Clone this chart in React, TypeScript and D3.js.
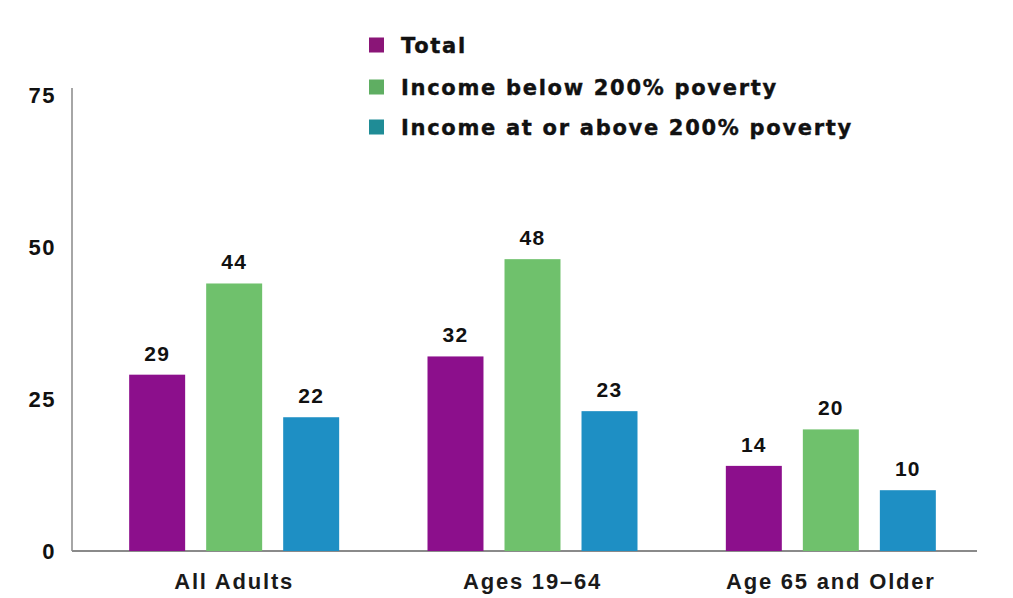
import React from "react";
import * as d3 from "d3";

const categories = ["All Adults", "Ages 19\u201364", "Age 65 and Older"];
const seriesNames = ["Total", "Income below 200% poverty", "Income at or above 200% poverty"];
const totalValues = [29, 32, 14];
const belowValues = [44, 48, 20];
const aboveValues = [22, 23, 10];
const yTicks = [0, 25, 50, 75];

const barColors = ["#8c0f8c", "#6fc16c", "#1e8fc4"];
const legendColors = ["#8a1577", "#5fae62", "#1f8c96"];

const W = 1013;
const H = 598;

export default function App() {
  const series = [totalValues, belowValues, aboveValues];
  const y = d3.scaleLinear().domain([0, 75]).range([551, 95]);
  const x0 = d3.scaleBand<string>().domain(categories).range([85, 980]).padding(0);
  const groupW = 210;
  const x1 = d3.scaleBand<string>().domain(seriesNames).range([0, groupW]).paddingInner(0.273).paddingOuter(0);
  const sans = "'Liberation Sans', Arial, Helvetica, sans-serif";
  const heavy = "'DejaVu Sans', 'Liberation Sans', Arial, sans-serif";
  const legendY = [45, 87, 127];

  return (
    <svg width={W} height={H} style={{ position: "absolute", left: 0, top: 0, background: "#fff" }}>
      <rect x={0} y={0} width={W} height={H} fill="#fff" />
      <line x1={72} x2={72} y1={88} y2={551} stroke="#888" strokeWidth={1.5} />
      <line x1={72} x2={977} y1={551} y2={551} stroke="#8a8a8a" strokeWidth={2} />
      {yTicks.map((t) => (
        <text key={t} x={56} y={y(t)} dy="0.36em" textAnchor="end" fontFamily={sans} fontWeight="bold" fontSize={22} letterSpacing={1.5} fill="#111">
          {t}
        </text>
      ))}
      {categories.map((c, ci) => {
        const gx = (x0(c) as number) + x0.bandwidth() / 2 - groupW / 2;
        return (
          <g key={c}>
            {seriesNames.map((s, si) => {
              const v = series[si][ci];
              const bx = gx + (x1(s) as number);
              return (
                <g key={s}>
                  <rect x={bx} y={y(v)} width={x1.bandwidth()} height={y(0) - y(v)} fill={barColors[si]} />
                  <text x={bx + x1.bandwidth() / 2} y={y(v) - 14} textAnchor="middle" fontFamily={sans} fontWeight="bold" fontSize={21} letterSpacing={1.2} fill="#111">
                    {v}
                  </text>
                </g>
              );
            })}
            <text x={(x0(c) as number) + x0.bandwidth() / 2} y={589} textAnchor="middle" fontFamily={sans} fontWeight="bold" fontSize={22} letterSpacing={1.8} fill="#1a1a1a">
              {c}
            </text>
          </g>
        );
      })}
      {seriesNames.map((s, i) => (
        <g key={s}>
          <rect x={369} y={legendY[i] - 7.5} width={15} height={15} fill={legendColors[i]} />
          <text x={401} y={legendY[i]} dy="0.36em" fontFamily={heavy} fontWeight="bold" fontSize={21} letterSpacing={1.7} fill="#111" stroke="#111" strokeWidth={0.4}>
            {s}
          </text>
        </g>
      ))}
    </svg>
  );
}
